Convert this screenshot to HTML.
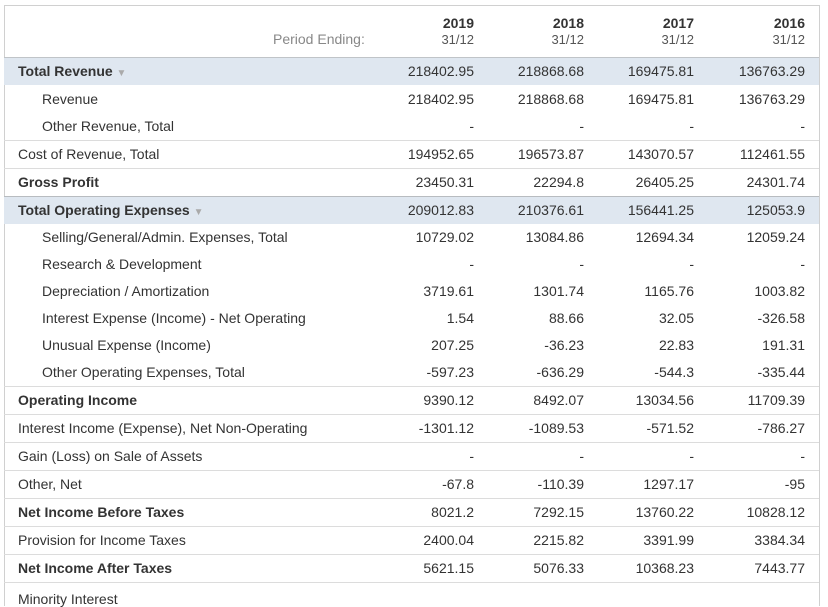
<!DOCTYPE html>
<html><head><meta charset="utf-8"><style>
body{margin:0;width:828px;height:596px;overflow:hidden;background:#fff;font-family:"Liberation Sans",Arial,sans-serif;color:#333;}
#t{position:absolute;left:4px;top:5px;width:814px;height:600px;border:1px solid #d0d0d0;border-bottom:none;}
.r{position:absolute;left:4px;width:815px;}
.lab{position:absolute;font-size:14px;white-space:nowrap;}
.v{position:absolute;font-size:14px;text-align:right;width:100px;}
.hl{background:#dfe7f0;}
.ln{position:absolute;left:4px;width:815px;height:1px;background:#dcdcdc;}
</style></head><body>
<div id="t"></div>
<div class="lab" style="left:273px;top:31px;color:#888">Period Ending:</div>
<div id="hdr"></div>
<div class="ln" style="top:57px;height:2px;background:#c0c4c8"></div>
<div id="rows"></div>
<script>
const years=["2019","2018","2017","2016"];
const colRight=[474,584,694,805];
const labels=["Total Revenue","Revenue","Other Revenue, Total","Cost of Revenue, Total","Gross Profit","Total Operating Expenses","Selling/General/Admin. Expenses, Total","Research & Development","Depreciation / Amortization","Interest Expense (Income) - Net Operating","Unusual Expense (Income)","Other Operating Expenses, Total","Operating Income","Interest Income (Expense), Net Non-Operating","Gain (Loss) on Sale of Assets","Other, Net","Net Income Before Taxes","Provision for Income Taxes","Net Income After Taxes","Minority Interest"];
const v2019=["218402.95","218402.95","-","194952.65","23450.31","209012.83","10729.02","-","3719.61","1.54","207.25","-597.23","9390.12","-1301.12","-","-67.8","8021.2","2400.04","5621.15",""];
const v2018=["218868.68","218868.68","-","196573.87","22294.8","210376.61","13084.86","-","1301.74","88.66","-36.23","-636.29","8492.07","-1089.53","-","-110.39","7292.15","2215.82","5076.33",""];
const v2017=["169475.81","169475.81","-","143070.57","26405.25","156441.25","12694.34","-","1165.76","32.05","22.83","-544.3","13034.56","-571.52","-","1297.17","13760.22","3391.99","10368.23",""];
const v2016=["136763.29","136763.29","-","112461.55","24301.74","125053.9","12059.24","-","1003.82","-326.58","191.31","-335.44","11709.39","-786.27","-","-95","10828.12","3384.34","7443.77",""];
const series=[v2019,v2018,v2017,v2016];
const bold=[1,0,0,0,1,1,0,0,0,0,0,0,1,0,0,0,1,0,1,0];
const indent=[0,1,1,0,0,0,1,1,1,1,1,1,0,0,0,0,0,0,0,0];
const highlight=[1,0,0,0,0,1,0,0,0,0,0,0,0,0,0,0,0,0,0,0];
const centers=[71,99,126,154,182,210,237,264,291,318,345,372,400,428,456,484,512,540,568,599];
const lineAfter=[0,0,1,1,1,0,0,0,0,0,0,1,1,1,1,1,1,1,1,0];
const hdr=document.getElementById('hdr');
years.forEach((y,i)=>{
 const d=document.createElement('div');
 d.className='v';d.style.left=(colRight[i]-100)+'px';d.style.top='15px';
 d.innerHTML='<b style="font-size:14px;color:#333">'+y+'</b><br><span style="font-size:13px;color:#555">31/12</span>';
 
 
 hdr.appendChild(d);
});
const rows=document.getElementById('rows');
labels.forEach((l,i)=>{
 const c=centers[i];
 if(highlight[i]){const h=document.createElement('div');h.className='r hl';h.style.top=(c-13)+'px';h.style.height='27px';
  
  
  rows.appendChild(h);}
 const a=document.createElement('div');a.className='lab';a.style.left=(indent[i]?42:18)+'px';a.style.top=(c-8)+'px';
 if(bold[i])a.style.fontWeight='bold';
 a.innerHTML=l.replace(/&/g,'&amp;')+(highlight[i]?' <span style="color:#aaa;font-size:10px">&#9660;</span>':'');
 
 
 rows.appendChild(a);
 series.forEach((s,j)=>{
  const v=document.createElement('div');v.className='v';v.style.left=(colRight[j]-100)+'px';v.style.top=(c-8)+'px';
  v.textContent=s[i];
  
  
  rows.appendChild(v);
 });
 if(lineAfter[i]){const ln=document.createElement('div');ln.className='ln';ln.style.top=(c+14)+'px';
  if(i==4)ln.style.background='#b8bcc0';
  
  
  rows.appendChild(ln);}
});
</script>
</body></html>
